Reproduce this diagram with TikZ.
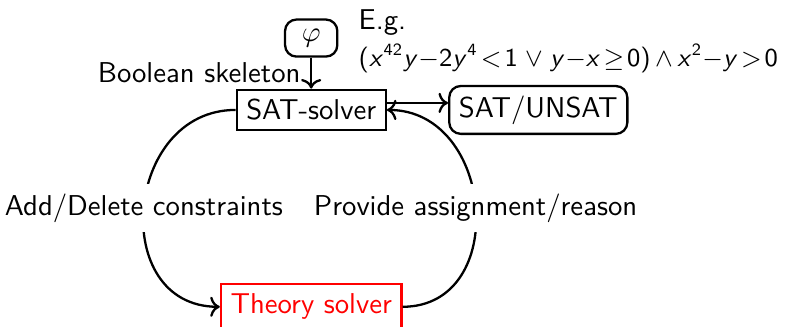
\documentclass[tikz,border=0pt]{standalone}
\usepackage{amsmath}
\usepackage{amssymb}
\usetikzlibrary{arrows.meta,positioning}
\renewcommand{\familydefault}{\sfdefault}
% sans letters and digits in math, as on slides
\DeclareSymbolFont{sfletters}{OT1}{cmss}{m}{sl}
\DeclareSymbolFont{sfdigits}{OT1}{cmss}{m}{n}
\DeclareMathSymbol{x}{\mathalpha}{sfletters}{`x}
\DeclareMathSymbol{y}{\mathalpha}{sfletters}{`y}
\DeclareMathSymbol{0}{\mathalpha}{sfdigits}{`0}
\DeclareMathSymbol{1}{\mathalpha}{sfdigits}{`1}
\DeclareMathSymbol{2}{\mathalpha}{sfdigits}{`2}
\DeclareMathSymbol{4}{\mathalpha}{sfdigits}{`4}
\DeclareMathSymbol{(}{\mathopen}{sfdigits}{`(}
\DeclareMathSymbol{)}{\mathclose}{sfdigits}{`)}

\begin{document}
\begin{tikzpicture}[
    thick,
    box/.style={draw},
    roundbox/.style={draw, rounded corners=4pt},
    lbl/.style={fill=white} % label that cuts the loop
]
\useasboundingbox (-3.81,-2.656) rectangle (5.96,1.346);

\node[box] (sat) at (0,0) {SAT-solver};
\node[roundbox, minimum width=0.64cm, minimum height=0.45cm] (phi) at (0,0.88) {$\varphi$};
\node[roundbox, right=0.75cm of sat] (result) {SAT/UNSAT};
\node[box, red, below=1.86cm of sat] (theory) {Theory solver};
\node[anchor=north west, align=left] (example) at (0.45,1.36)
    {E.g.\\[1pt] \small\thickmuskip=2mu\medmuskip=3mu
    $(x^{42}y{-}2y^4<1\;\vee\; y{-}x\geq 0)\wedge x^2{-}y>0$};

\draw[->] (phi) -- node[left] (skeleton) {Boolean skeleton} (sat);
\draw[->] ([yshift=0.086cm]sat.east) -- ([yshift=0.086cm]sat.east -| result.west);
\draw[->] (sat.west) to[out=180, in=180, looseness=1.45]
    node[lbl] (adddel) {Add/Delete constraints} (theory.west);
\draw[->] (theory.east) to[out=0, in=0, looseness=1.4]
    node[lbl] (provide) {Provide assignment/reason} (sat.east);

\end{tikzpicture}
\end{document}
